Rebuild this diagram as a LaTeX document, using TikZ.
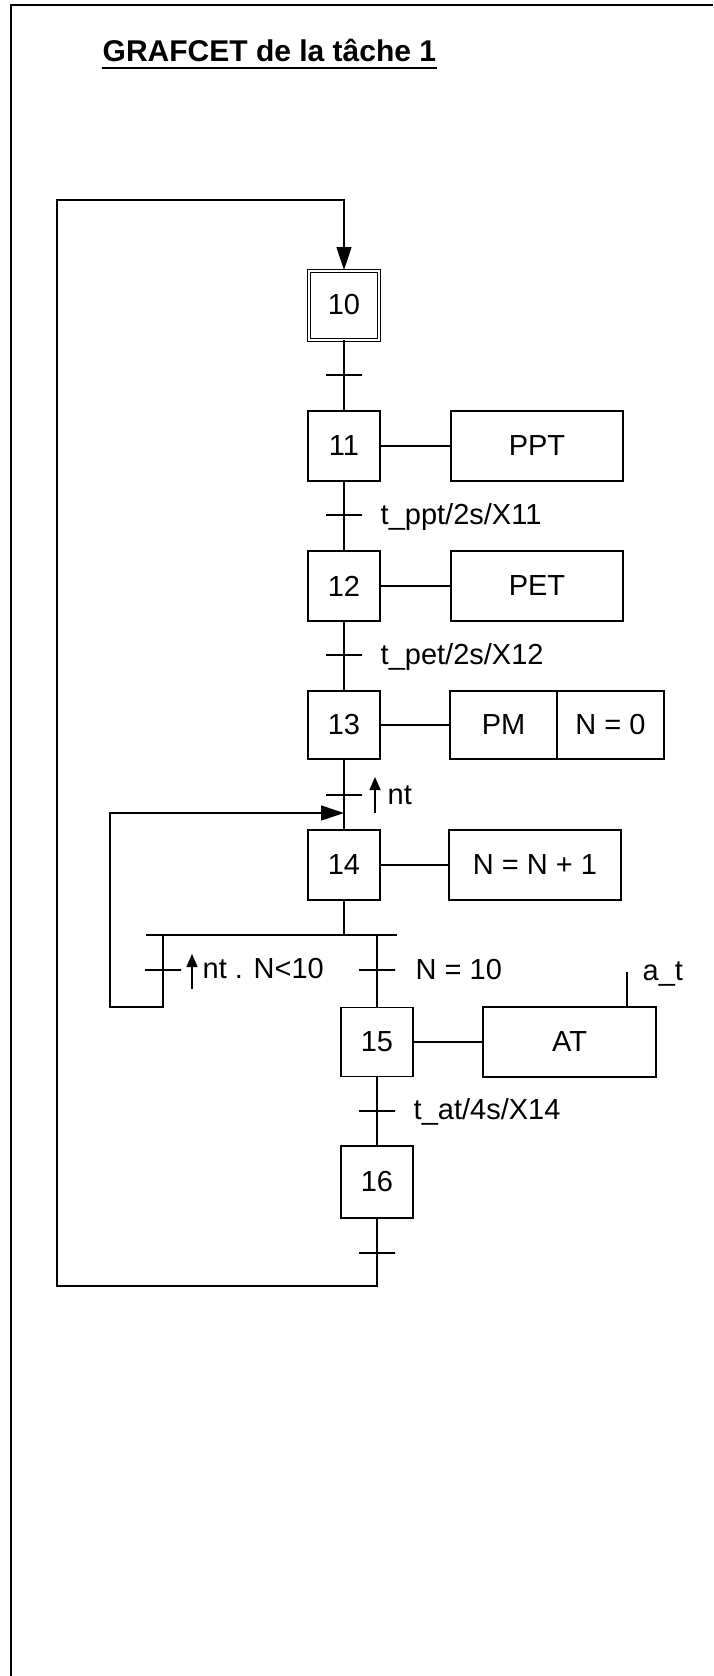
\documentclass[tikz,border=0pt]{standalone}
\usepackage{fontspec}
\setmainfont{Liberation Sans}
\usetikzlibrary{arrows.meta}
\begin{document}
\begin{tikzpicture}[x=1pt,y=-1pt,line width=1.4pt,
  txt/.style={font=\fontsize{29}{33}\selectfont},
  stepbox/.style={draw, rectangle, minimum width=72pt, minimum height=70pt, inner sep=0pt, txt},
  initstep/.style={stepbox, double, double distance=2pt, line width=1pt, minimum width=70pt, minimum height=69pt},
  actbox/.style={draw, rectangle, minimum height=70pt, inner sep=0pt, txt},
  trans/.style={draw, rectangle, minimum width=36pt, minimum height=0pt, inner sep=0pt},
  lbl/.style={inner sep=0pt, anchor=base west, txt},
  bigarrow/.style={-{Triangle[length=23pt,width=15pt]}},
  risearrow/.style={line width=1.6pt,-{Triangle[length=13pt,width=11pt]}},
  frame/.style={line width=2pt}
]
\useasboundingbox (0,0) rectangle (713,1676);

% frame
\coordinate (f0) at (11,5);
\coordinate (f1) at (713,5);
\coordinate (f2) at (11,1676);
\draw[frame] (f1) -- (f0) -- (f2);

% title
\node[anchor=base west, inner sep=0pt, font=\fontsize{30}{34}\selectfont\bfseries] (title) at (102,61) {GRAFCET de la tâche 1};
\draw[line width=1.8pt] ([yshift=-7pt]title.base west) -- ([yshift=-7pt]title.base east);

% steps
\node[initstep] (s10) at (344,305) {10};
\node[stepbox] (s11) at (344,446) {11};
\node[stepbox] (s12) at (344,586) {12};
\node[stepbox, minimum height=68pt] (s13) at (344,725) {13};
\node[stepbox] (s14) at (344,865) {14};
\node[stepbox, minimum height=69pt] (s15) at (377,1042) {15};
\node[stepbox, minimum height=72pt] (s16) at (377,1182) {16};

% actions
\node[actbox, minimum width=172pt] (a11) at (537,446) {PPT};
\node[actbox, minimum width=172pt] (a12) at (537,586) {PET};
\node[actbox, minimum width=107pt, minimum height=68pt] (a13a) at (503.5,725) {PM};
\node[actbox, minimum width=107pt, minimum height=68pt] (a13b) at (610.5,725) {N = 0};
\node[actbox, minimum width=172pt] (a14) at (535,865) {N = N + 1};
\node[actbox, minimum width=173pt] (a15) at (569.5,1042) {AT};

\draw (s11) -- (a11);
\draw (s12) -- (a12);
\draw (s13) -- (a13a);
\draw (s14) -- (a14);
\draw (s15) -- (a15);

% transitions
\node[trans] (t10) at (344,375) {};
\node[trans] (t11) at (344,515) {};
\node[trans] (t12) at (344,655) {};
\node[trans] (t13) at (344,795) {};
\node[trans] (tL) at (163,970) {};
\node[trans] (tR) at (377,970) {};
\node[trans] (t15) at (377,1111) {};
\node[trans] (t16) at (377,1253) {};

% main links
\draw (s10.south) -- (s11.north);
\draw (s11.south) -- (s12.north);
\draw (s12.south) -- (s13.north);
\draw (s13.south) -- (s14.north);
\draw (s15.south) -- (s16.north);

% OR divergence
\coordinate (dvL) at (146,935);
\coordinate (dvR) at (397,935);
\coordinate (dv14) at (344,935);
\coordinate (dvb) at (163,935);
\coordinate (dvc) at (377,935);
\draw (dvL) -- (dvR);
\draw (s14.south) -- (dv14);
\draw (dvc) -- (s15.north);

% inner loop back to step 14
\coordinate (d1) at (163,1007);
\coordinate (d2) at (110,1007);
\coordinate (d3) at (110,813);
\coordinate (d4) at (344,813);
\draw[bigarrow] (dvb) -- (d1) -- (d2) -- (d3) -- (d4);

% outer loop back to step 10
\coordinate (b1) at (377,1286);
\coordinate (b2) at (57,1286);
\coordinate (b3) at (57,200);
\coordinate (b4) at (344,200);
\draw[bigarrow] (s16.south) -- (b1) -- (b2) -- (b3) -- (b4) -- (s10.north);

% rising edges
\coordinate (r1a) at (375,813);
\coordinate (r1b) at (375,777);
\draw[risearrow] (r1a) -- (r1b);
\coordinate (r2a) at (192,989);
\coordinate (r2b) at (192,954);
\draw[risearrow] (r2a) -- (r2b);

% a_t
\coordinate (at1) at (627,972);
\draw (at1) -- (at1 |- a15.north);

% labels
\node[lbl] (l11) at (380,524) {t\_ppt/2s/X11};
\node[lbl] (l12) at (380,664) {t\_pet/2s/X12};
\node[lbl] (l13) at (387,804) {nt};
\node[lbl] (lL) at (202,978) {nt . N<10};
\node[lbl] (lR) at (415,979) {N = 10};
\node[lbl] (l15) at (413,1119) {t\_at/4s/X14};
\node[lbl] (lat) at (642,980) {a\_t};
\end{tikzpicture}
\end{document}
